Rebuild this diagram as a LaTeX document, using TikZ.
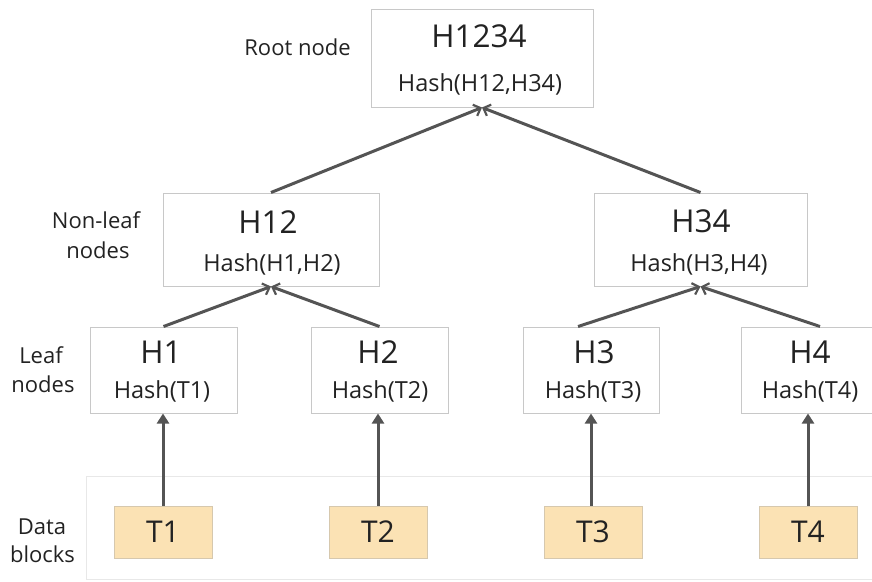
\documentclass[tikz,border=0pt]{standalone}
\usepackage{fontspec}
\setmainfont{Open Sans}
\usetikzlibrary{arrows.meta}
\definecolor{linec}{HTML}{545454}
\definecolor{boxc}{HTML}{C8C8C8}
\definecolor{bandc}{HTML}{E8E8E8}
\definecolor{tfill}{HTML}{FBE2B4}
\definecolor{tdraw}{HTML}{D6C8AE}
\definecolor{txt}{HTML}{222222}
\tikzset{
  hbox/.style={draw=boxc, line width=1pt, fill=white, inner sep=0pt},
  tbox/.style={draw=tdraw, line width=1pt, fill=tfill, inner sep=0pt, minimum width=98pt, minimum height=52pt, text=txt, font=\fontsize{30}{36}\selectfont},
  big/.style={anchor=base, inner sep=0pt, text=txt, font=\fontsize{31.5}{36}\selectfont},
  small/.style={anchor=base, inner sep=0pt, text=txt, font=\fontsize{23.5}{28}\selectfont},
  lab/.style={anchor=base, inner sep=0pt, text=txt, font=\fontsize{22}{26}\selectfont},
  conv/.style={draw=linec, line width=3pt, -{Straight Barb[length=6pt,width=12pt,line width=2.2pt]}},
  vert/.style={draw=linec, line width=3pt, -{Triangle[length=10pt,width=12pt]}},
}
\begin{document}
\begin{tikzpicture}[x=1pt,y=-1pt]
\useasboundingbox (0,0) rectangle (872,581);
% band
\draw[bandc, line width=1pt] (872,476) -- (86,476) -- (86,579) -- (872,579);
% boxes
\node[hbox, minimum width=222pt, minimum height=98pt] (root) at (482,58) {};
\node[hbox, minimum width=216pt, minimum height=93pt] (h12) at (271,239.5) {};
\node[hbox, minimum width=213pt, minimum height=93pt] (h34) at (700.5,239.5) {};
\node[hbox, minimum width=147pt, minimum height=86pt] (h1) at (163.5,370) {};
\node[hbox, minimum width=137pt, minimum height=86pt] (h2) at (379.5,370) {};
\node[hbox, minimum width=136pt, minimum height=86pt] (h3) at (591,370) {};
\node[hbox, minimum width=137pt, minimum height=86pt] (h4) at (809.5,370) {};
% texts in boxes
\node[big] (rootA) at (479,47) {H1234};
\node[small] (rootB) at (480,91) {Hash(H12,H34)};
\node[big] (h12A) at (268,233) {H12};
\node[small] (h12B) at (272,271) {Hash(H1,H2)};
\node[big] (h34A) at (701,232) {H34};
\node[small] (h34B) at (699,271) {Hash(H3,H4)};
\node[big] (h1A) at (161,363) {H1};
\node[small] (h1B) at (162,398) {Hash(T1)};
\node[big] (h2A) at (378,363) {H2};
\node[small] (h2B) at (380,398) {Hash(T2)};
\node[big] (h3A) at (594,363) {H3};
\node[small] (h3B) at (593,398) {Hash(T3)};
\node[big] (h4A) at (810,363) {H4};
\node[small] (h4B) at (810,398) {Hash(T4)};
% data blocks
\node[tbox] (t1) at (163,532) {T1};
\node[tbox] (t2) at (378,532) {T2};
\node[tbox] (t3) at (593,532) {T3};
\node[tbox] (t4) at (808,532) {T4};
% left labels
\node[lab] (lroot) at (297.5,55) {Root node};
\node[lab] (lnl1) at (96,228) {Non-leaf};
\node[lab] (lnl2) at (98,258) {nodes};
\node[lab] (ll1) at (41,363) {Leaf};
\node[lab] (ll2) at (43,392) {nodes};
\node[lab] (ld1) at (42,534) {Data};
\node[lab] (ld2) at (42.5,562) {blocks};
% connectors
\draw[vert] (t1.north) -- (t1.north |- h1.south);
\draw[vert] (t2.north) -- (t2.north |- h2.south);
\draw[vert] ([xshift=-2pt]t3.north) -- ([xshift=-2pt]t3.north |- h3.south);
\draw[vert] (t4.north) -- (t4.north |- h4.south);
\draw[conv] (h1.north) -- (h12.south);
\draw[conv] (h2.north) -- (h12.south);
\draw[conv] ([xshift=-13pt]h3.north) -- (h34.south);
\draw[conv] ([xshift=10.5pt]h4.north) -- (h34.south);
\draw[conv] (h12.north) -- (root.south);
\draw[conv] (h34.north) -- (root.south);
\end{tikzpicture}
\end{document}
